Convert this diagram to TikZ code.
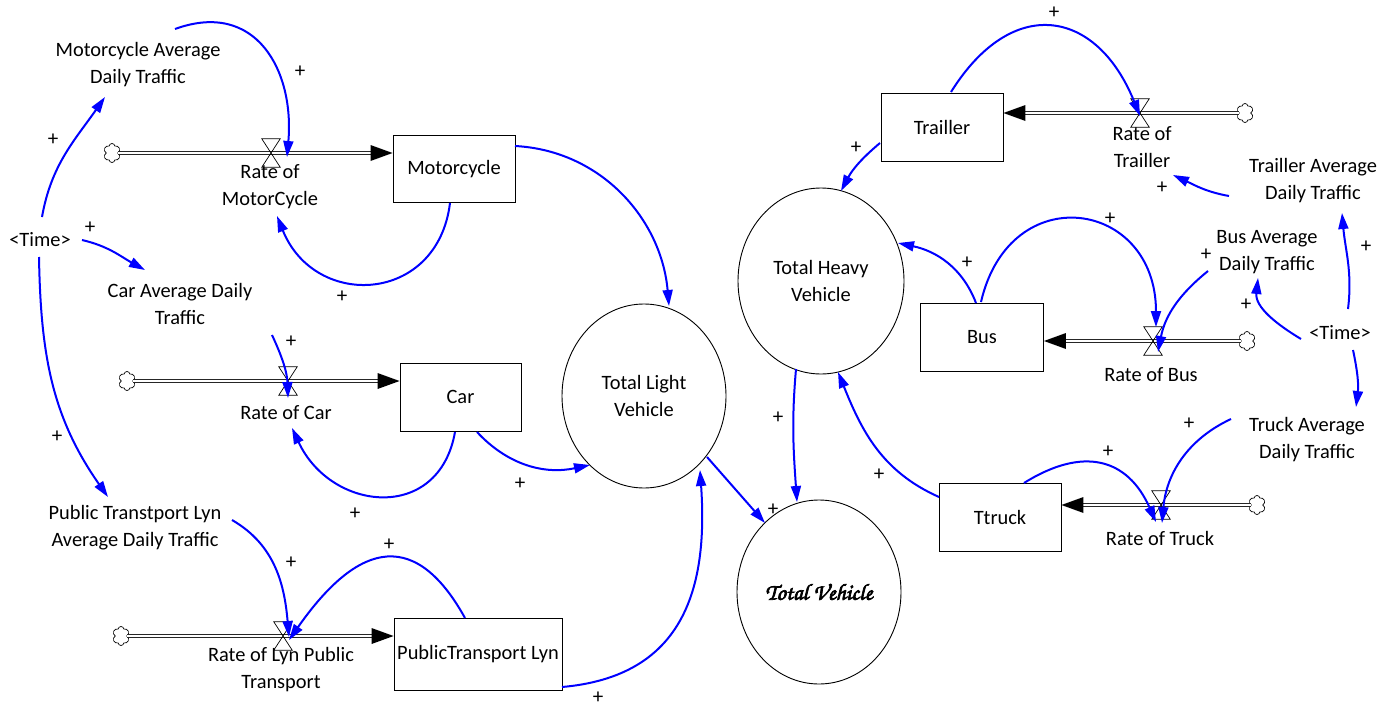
\documentclass[tikz,border=0pt]{standalone}
\usepackage{fontspec}
\setmainfont{Carlito}
\IfFontExistsTF{texgyrechorus-mediumitalic.otf}
  {\newfontfamily\tvfont[FakeBold=3]{texgyrechorus-mediumitalic.otf}}
  {\newfontfamily\tvfont{Carlito}[UprightFont=*-BoldItalic]}
\usetikzlibrary{arrows.meta,shapes.geometric,shapes.symbols,calc}

\tikzset{
  varlabel/.style={align=center, inner sep=0pt, font=\fontsize{20.4}{27}\selectfont},
  stockbox/.style={draw, line width=0.9pt, inner sep=0pt, font=\fontsize{20.4}{27}\selectfont},
  auxvar/.style={ellipse, draw, line width=0.9pt, inner sep=0pt, align=center,
                 minimum width=164pt, minimum height=184pt, font=\fontsize{20.4}{27}\selectfont},
  cloudsrc/.style={cloud, cloud puffs=6, cloud puff arc=165, aspect=0.9, draw, line width=0.7pt,
                   minimum width=17pt, minimum height=19pt, inner sep=0pt},
  flowvalve/.style={minimum width=18pt, minimum height=28pt, inner sep=0pt},
  flowpipe/.style={draw=black!85, line width=0.9pt, double=white, double distance=2.2pt},
  infolink/.style={draw=blue, line width=2pt, -{Triangle[length=16pt,width=10pt]}},
  polarity/.style={inner sep=0pt, font=\fontsize{21}{21}\selectfont},
}

\begin{document}
\begin{tikzpicture}[x=1pt,y=1pt]
\fill[white] (0,0) rectangle (1392,-709);
\path[use as bounding box] (0,0) rectangle (1392,-709);

% ---------- light vehicles (left) ----------
\node[varlabel] (mad)   at (138,-65)   {Motorcycle Average\\Daily Traffic};
\node[varlabel] (timeL) at (40,-240)   {<Time>};
\node[varlabel] (cad)   at (180,-303.5){Car Average Daily\\Traffic};
\node[varlabel] (ptad)  at (135,-528)  {Public Transtport Lyn\\Average Daily Traffic};
\node[varlabel] (rm)    at (270,-187)  {Rate of\\MotorCycle};
\node[varlabel] (rc)    at (286,-413)  {Rate of Car};
\node[varlabel] (rl)    at (281,-670)  {Rate of Lyn Public\\Transport};

\node[stockbox, minimum width=122pt, minimum height=67pt] (moto) at (454,-169)   {Motorcycle};
\node[stockbox, minimum width=121pt, minimum height=68pt] (car)  at (460.5,-397) {Car};
\node[stockbox, minimum width=168pt, minimum height=72pt] (ptl)  at (478,-654)   {PublicTransport Lyn};

\node[cloudsrc] (c1) at (112,-153) {};
\node[cloudsrc] (c2) at (127,-381) {};
\node[cloudsrc] (c3) at (121,-636) {};
\node[flowvalve] (v1) at (271,-153) {};
\node[flowvalve] (v2) at (288,-381) {};
\node[flowvalve] (v3) at (283,-636) {};

% ---------- totals ----------
\node[auxvar] (tlv) at (644,-396) {Total Light\\Vehicle};
\node[auxvar] (tv)  at (819,-592) {{\tvfont\fontsize{23}{23}\selectfont Total Vehicle}};
\node[auxvar, minimum width=166pt, minimum height=186pt] (thv) at (821,-281) {Total Heavy\\Vehicle};

% ---------- heavy vehicles (right) ----------
\node[stockbox, minimum width=122pt, minimum height=68pt] (trl) at (942,-127)  {Trailler};
\node[stockbox, minimum width=123pt, minimum height=68pt] (bus) at (982,-337)  {Bus};
\node[stockbox, minimum width=122pt, minimum height=68pt] (trk) at (1000,-517) {Ttruck};

\node[varlabel] (rtr)   at (1142,-147) {Rate of\\Trailler};
\node[varlabel] (trad)  at (1313,-181) {Trailler Average\\Daily Traffic};
\node[varlabel] (bad)   at (1267,-252) {Bus Average\\Daily Traffic};
\node[varlabel] (timeR) at (1340,-333) {<Time>};
\node[varlabel] (tad)   at (1307,-440) {Truck Average\\Daily Traffic};
\node[varlabel] (rb)    at (1151,-375) {Rate of Bus};
\node[varlabel] (rt)    at (1160,-538) {Rate of Truck};

\node[cloudsrc] (c4) at (1245,-113) {};
\node[cloudsrc] (c5) at (1247,-341) {};
\node[cloudsrc] (c6) at (1257,-505) {};
\node[flowvalve] (v4) at (1140,-113) {};
\node[flowvalve] (v5) at (1153,-341) {};
\node[flowvalve] (v6) at (1161,-505) {};

% ---------- flow pipes ----------
\draw[flowpipe] (c1.east) -- ($(moto.west |- c1.east)+(-20,0)$);
\fill (moto.west |- c1.east) -- ++(-22,8) -- ++(0,-16) -- cycle;
\draw[flowpipe] (c2.east) -- ($(car.west |- c2.east)+(-20,0)$);
\fill (car.west |- c2.east) -- ++(-22,8) -- ++(0,-16) -- cycle;
\draw[flowpipe] (c3.east) -- ($(ptl.west |- c3.east)+(-20,0)$);
\fill (ptl.west |- c3.east) -- ++(-22,8) -- ++(0,-16) -- cycle;
\draw[flowpipe] (c4.west) -- ($(trl.east |- c4.west)+(20,0)$);
\fill (trl.east |- c4.west) -- ++(22,8) -- ++(0,-16) -- cycle;
\draw[flowpipe] (c5.west) -- ($(bus.east |- c5.west)+(20,0)$);
\fill (bus.east |- c5.west) -- ++(22,8) -- ++(0,-16) -- cycle;
\draw[flowpipe] (c6.west) -- ($(trk.east |- c6.west)+(20,0)$);
\fill (trk.east |- c6.west) -- ++(22,8) -- ++(0,-16) -- cycle;

\foreach \v in {v1,v2,v3,v4,v5,v6}
  \draw[line width=0.7pt] (\v.north west) -- (\v.north east) -- (\v.south west) -- (\v.south east) -- cycle;

% ---------- information links ----------
\draw[infolink] ([shift={(37,36)}]mad.center) to[out=20,in=85,looseness=1.3] ([shift={(16,-4)}]v1.center);
\draw[infolink] ([shift={(2,23)}]timeL.center) to[out=80,in=235] ([shift={(-33,-32)}]mad.center);
\draw[infolink] ([shift={(42,0)}]timeL.center) to[out=-13,in=151] ([shift={(-35,33.5)}]cad.center);
\draw[infolink] ([shift={(-1,-17)}]timeL.center) to[out=-89,in=125] ([shift={(-27,31)}]ptad.center);
\draw[infolink] ([shift={(-4,-34)}]moto.center) to[out=-97,in=-68,looseness=1.5] ([shift={(7,-29)}]rm.center);
\draw[infolink] ([shift={(61,23)}]moto.center) to[out=-3,in=95] ([shift={(25,90)}]tlv.center);
\draw[infolink] ([shift={(92,-31.5)}]cad.center) to[out=-65,in=92] ([shift={(0,-17)}]v2.center);
\draw[infolink] ([shift={(-5.5,-35)}]car.center) to[out=-100,in=-65,looseness=1.45] ([shift={(6,-15)}]rc.center);
\draw[infolink] ([shift={(16.5,-35)}]car.center) to[out=-47,in=-168] ([shift={(-54,-69)}]tlv.center);
\draw[infolink] ([shift={(97,8)}]ptad.center) to[out=-30,in=95] ([shift={(6,-1)}]v3.center);
\draw[infolink] ([shift={(-13,36)}]ptl.center) to[out=119,in=55,looseness=1.6] ([shift={(6,-4)}]v3.center);
\draw[infolink] ([shift={(84,-33)}]ptl.center) to[out=5,in=-86,looseness=1.2] ([shift={(56,-74)}]tlv.center);
\draw[infolink] ([shift={(63,-61)}]tlv.center) -- ([shift={(-54,69)}]tv.center);
\draw[infolink] ([shift={(-25,-88)}]thv.center) to[out=-95,in=94] ([shift={(-22,90)}]tv.center);
\draw[infolink] ([shift={(-62,-16)}]trl.center) to[out=-140,in=62] ([shift={(20,90)}]thv.center);
\draw[infolink] ([shift={(9,35)}]trl.center) to[out=58,in=112,looseness=1.55] ([shift={(0,-3)}]v4.center);
\draw[infolink] ([shift={(-84,-15)}]trad.center) to[out=170,in=-25] ([shift={(31,-28)}]rtr.center);
\draw[infolink] ([shift={(8,24)}]timeR.center) to[out=83,in=-85] ([shift={(29,-32)}]trad.center);
\draw[infolink] ([shift={(-39,-6)}]timeR.center) to[out=149,in=-96] ([shift={(-9,-26)}]bad.center);
\draw[infolink] ([shift={(13,-17)}]timeR.center) to[out=-78,in=83] ([shift={(49,33)}]tad.center);
\draw[infolink] ([shift={(-6,34)}]bus.center) to[out=111,in=-12] ([shift={(77,38)}]thv.center);
\draw[infolink] ([shift={(-1,35)}]bus.center) to[out=77,in=90,looseness=1.85] ([shift={(3,14)}]v5.center);
\draw[infolink] ([shift={(-59,-19)}]bad.center) to[out=-141,in=79] ([shift={(5,-11)}]v5.center);
\draw[infolink] ([shift={(-61,20)}]trk.center) to[out=156,in=-68] ([shift={(17,-91)}]thv.center);
\draw[infolink] ([shift={(24,34)}]trk.center) to[out=32,in=114,looseness=1.3] ([shift={(-5,-17)}]v6.center);
\draw[infolink] ([shift={(-76,21)}]tad.center) to[out=-155,in=85] ([shift={(1,-18)}]v6.center);

% ---------- link polarities ----------
\node[polarity] (p1)  at (300,-72)  {+};
\node[polarity] (p2)  at (53,-140)  {+};
\node[polarity] (p3)  at (90,-228)  {+};
\node[polarity] (p4)  at (57,-437)  {+};
\node[polarity] (p5)  at (342,-297) {+};
\node[polarity] (p6)  at (291,-342) {+};
\node[polarity] (p7)  at (355,-514) {+};
\node[polarity] (p8)  at (520,-484) {+};
\node[polarity] (p9)  at (291,-563) {+};
\node[polarity] (p10) at (389,-545) {+};
\node[polarity] (p11) at (598,-698) {+};
\node[polarity] (p12) at (773,-510) {+};
\node[polarity] (p13) at (778,-418) {+};
\node[polarity] (p14) at (856,-148) {+};
\node[polarity] (p15) at (1054,-13) {+};
\node[polarity] (p16) at (1162,-188) {+};
\node[polarity] (p17) at (1366,-247) {+};
\node[polarity] (p18) at (1246,-305) {+};
\node[polarity] (p19) at (967,-263) {+};
\node[polarity] (p20) at (1110,-219) {+};
\node[polarity] (p21) at (1206,-255) {+};
\node[polarity] (p22) at (879,-475) {+};
\node[polarity] (p23) at (1108,-452) {+};
\node[polarity] (p24) at (1189,-424) {+};
\end{tikzpicture}
\end{document}
